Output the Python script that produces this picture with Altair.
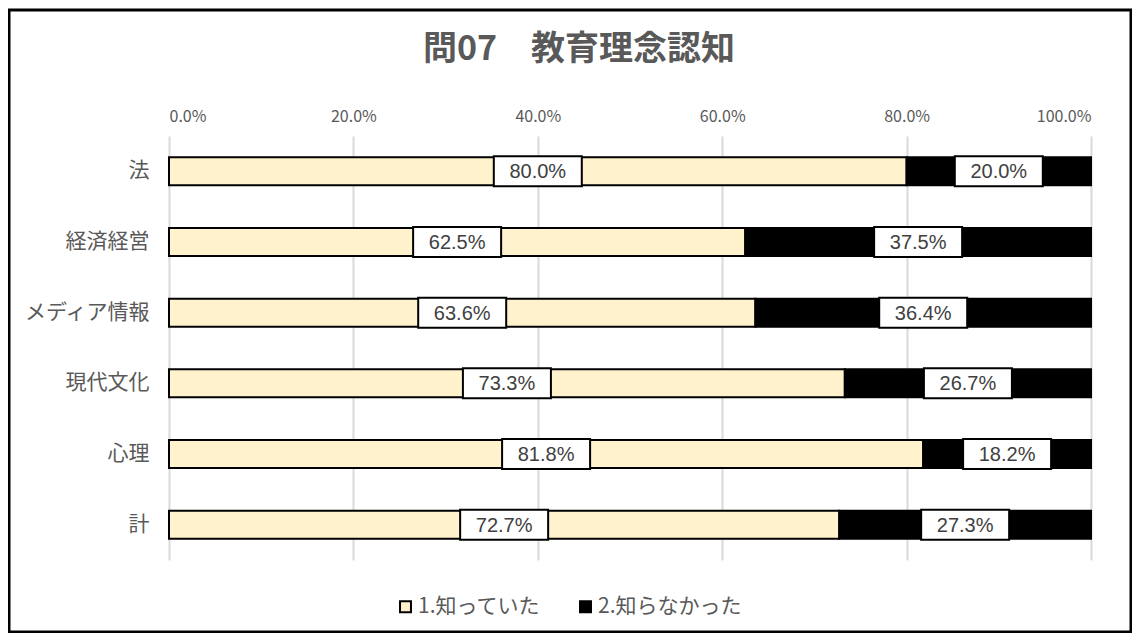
import altair as alt
import pandas as pd

title_text = "問07　教育理念認知"
categories = ["法", "経済経営", "メディア情報", "現代文化", "心理", "計"]
series_names = ["1.知っていた", "2.知らなかった"]
known = [0.800, 0.625, 0.636, 0.733, 0.818, 0.727]
unknown = [0.200, 0.375, 0.364, 0.267, 0.182, 0.273]
tick_values = [0.0, 0.2, 0.4, 0.6, 0.8, 1.0]
colors = ["#fff2cc", "#000000"]

rows = []
for c, k, u in zip(categories, known, unknown):
    rows.append({"cat": c, "series": series_names[0], "value": k, "ord": 0})
    rows.append({"cat": c, "series": series_names[1], "value": u, "ord": 1})
df = pd.DataFrame(rows)

FONT_JP = "Noto Sans CJK JP"

base = alt.Chart(df).transform_stack(
    stack="value", as_=["v0", "v1"], groupby=["cat"], sort=[alt.SortField("ord")]
).transform_calculate(mid="(datum.v0 + datum.v1) / 2")

y_enc = alt.Y("cat:N", sort=categories, title=None,
              axis=alt.Axis(labelFontSize=21, labelColor="#595959", labelFont=FONT_JP,
                            labelFontWeight="normal",
                            labelPadding=20, ticks=False, domain=False, grid=False))

bars = base.mark_bar(size=28, stroke="#000000", strokeWidth=2).encode(
    x=alt.X("v0:Q", scale=alt.Scale(domain=[0, 1], nice=False), title=None,
            axis=alt.Axis(orient="top", values=tick_values, format=".1%",
                          labelFontSize=16, labelColor="#595959", labelFont=FONT_JP,
                          labelFontWeight="normal",
                          labelPadding=12, ticks=False, domain=False,
                          grid=True, gridColor="#d9d9d9", gridWidth=2)),
    x2="v1:Q",
    y=y_enc,
    color=alt.Color("series:N", scale=alt.Scale(domain=series_names, range=colors),
                    legend=alt.Legend(title=None, orient="none", direction="horizontal",
                                      legendX=226, legendY=460,
                                      symbolType="square", symbolSize=120,
                                      symbolStrokeColor="#000000", symbolStrokeWidth=2,
                                      labelFontSize=21, labelColor="#595959",
                                      labelFont=FONT_JP, columnPadding=34,
                                      symbolOffset=0, labelOffset=2)),
)

box_shape = "M-1,-0.34L1,-0.34L1,0.34L-1,0.34Z"
boxes = base.mark_point(shape=box_shape, size=7744, filled=True, fill="#ffffff",
                        stroke="#000000", strokeWidth=2, opacity=1).encode(
    x=alt.X("mid:Q"),
    y=alt.Y("cat:N", sort=categories),
)

labels = base.mark_text(font="Liberation Sans", fontSize=20, color="#404040",
                        baseline="middle", align="center", dy=1).encode(
    x=alt.X("mid:Q"),
    y=alt.Y("cat:N", sort=categories),
    text=alt.Text("value:Q", format=".1%"),
)

title_layer = alt.Chart(alt.Data(values=[{"t": title_text}])).mark_text(
    font=FONT_JP, fontSize=34, fontWeight="bold", color="#595959",
    align="center", baseline="middle"
).encode(
    x=alt.value(410), y=alt.value(-86), text="t:N",
)

frame = alt.Chart(alt.Data(values=[{}])).mark_rect(
    fill=None, stroke="#000000", strokeWidth=3
).encode(
    x=alt.value(-160), x2=alt.value(962),
    y=alt.value(-126), y2=alt.value(496),
)

chart = alt.layer(bars, boxes, labels, title_layer, frame).properties(
    width=922, height=424,
    autosize=alt.AutoSizeParams(type="none"),
    padding={"left": 161, "top": 128, "right": 41, "bottom": 73},
    background="#ffffff",
).configure_view(stroke=None)

chart.save("out.html", embed_options={"renderer": "svg", "actions": False})
